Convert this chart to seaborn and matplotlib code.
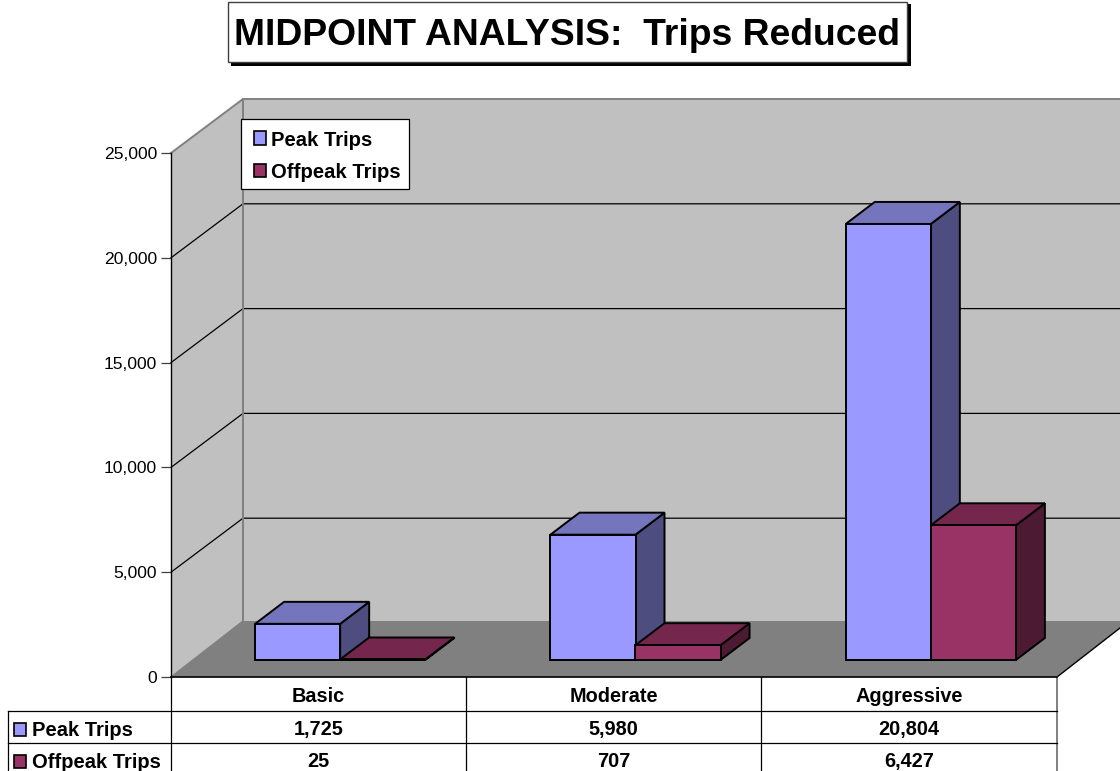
import matplotlib
matplotlib.use("Agg")
import matplotlib.pyplot as plt
from matplotlib.patches import Polygon, Rectangle
from matplotlib.ticker import FuncFormatter, MultipleLocator
import pandas as pd
import seaborn as sns

categories = ["Basic", "Moderate", "Aggressive"]
peak_trips = [1725, 5980, 20804]
offpeak_trips = [25, 707, 6427]
series_names = ["Peak Trips", "Offpeak Trips"]
tick_values = [0, 5000, 10000, 15000, 20000, 25000]
title_text = "MIDPOINT ANALYSIS:  Trips Reduced"

FACE = {"Peak Trips": "#9999FF", "Offpeak Trips": "#993366"}
TOP = {"Peak Trips": "#7575BE", "Offpeak Trips": "#74264C"}
SIDE = {"Peak Trips": "#4D4D80", "Offpeak Trips": "#4D1A33"}

W, H = 1120, 771
FONT = "Liberation Sans"
plt.rcParams["font.family"] = [FONT, "DejaVu Sans"]

# Geometry of the box, in canvas pixels
X0, X1, Y0, Y1 = 171, 1057, 677, 153      # front plane of the plot box
WALL_DX, WALL_DY = 72, 54                 # depth of the whole box
BAR_DX, BAR_DY = 21.5, 17                 # how far back the bars stand
DEPTH_X, DEPTH_Y = 29, 22                 # depth of one bar


def axes_rect(x0, x1, y_bottom, y_top):
    return [x0 / W, 1 - y_bottom / H, (x1 - x0) / W, (y_bottom - y_top) / H]


def y_px(value):
    return Y0 + (Y1 - Y0) * value / tick_values[-1]


fig = plt.figure(figsize=(W / 100, H / 100), dpi=100, facecolor="white")

# Canvas layer for walls, floor, title box and data table
canvas = fig.add_axes([0, 0, 1, 1], zorder=0)
canvas.set_xlim(0, W)
canvas.set_ylim(H, 0)
canvas.axis("off")

canvas.add_patch(Polygon(
    [(X0 + WALL_DX, Y1 - WALL_DY), (X1 + WALL_DX, Y1 - WALL_DY),
     (X1 + WALL_DX, Y0 - 56), (X0 + WALL_DX, Y0 - 56)],
    fc="#C0C0C0", ec="none"))
canvas.add_patch(Polygon(
    [(X0, Y1), (X0 + WALL_DX, Y1 - WALL_DY), (X0 + WALL_DX, Y0 - 56), (X0, Y0)],
    fc="#C0C0C0", ec="none"))
canvas.add_patch(Polygon(
    [(X0, Y0), (X0 + WALL_DX, Y0 - 56), (X1 + WALL_DX, Y0 - 56), (X1, Y0)],
    fc="#808080", ec="none"))

# Gridlines run along the side wall, then across the back wall
for v in tick_values[1:-1]:
    y = y_px(v)
    canvas.plot([X0, X0 + WALL_DX, W], [y, y - WALL_DY, y - WALL_DY],
                color="black", lw=0.9, solid_joinstyle="miter")
y = y_px(tick_values[-1])
canvas.plot([X0, X0 + WALL_DX, W], [y, y - WALL_DY, y - WALL_DY], color="#808080", lw=1.4)
canvas.plot([X0 + WALL_DX] * 2, [y - WALL_DY, Y0 - 56], color="#808080", lw=1.4)
canvas.plot([X0, X0 + WALL_DX], [Y0, Y0 - 56], color="#808080", lw=1.0)
canvas.plot([X1, X1 + WALL_DX], [Y0, Y0 - 56], color="black", lw=1.0)

# Value axis on the front plane
front = fig.add_axes(axes_rect(X0, X1, Y0, Y1), zorder=1)
front.patch.set_alpha(0)
front.set_ylim(tick_values[0], tick_values[-1])
front.set_xticks([])
front.yaxis.set_major_locator(MultipleLocator(5000))
front.yaxis.set_major_formatter(FuncFormatter(lambda v, _: f"{int(v):,}"))
front.tick_params(axis="y", length=7.2, width=0.9, pad=2.9, labelsize=12.6, color="#404040")
for side in ("top", "right"):
    front.spines[side].set_visible(False)
front.spines["left"].set_linewidth(1.0)
front.spines["bottom"].set_linewidth(1.2)

# Bars stand on the floor, a little behind the front plane
ax = fig.add_axes(axes_rect(X0 + BAR_DX, X1 + BAR_DX, Y0 - BAR_DY, Y1 - BAR_DY), zorder=2)
ax.patch.set_alpha(0)

frame = pd.DataFrame({
    "category": categories * 2,
    "series": [series_names[0]] * 3 + [series_names[1]] * 3,
    "trips": peak_trips + offpeak_trips,
})
sns.barplot(data=frame, x="category", y="trips", hue="series", hue_order=series_names,
            order=categories, palette=FACE, width=0.576, gap=0, saturation=1,
            edgecolor="black", linewidth=1.4, ax=ax, legend=True)
ax.set_xlim(-0.5, 2.5)
ax.set_ylim(tick_values[0], tick_values[-1])
ax.axis("on")
ax.set_frame_on(False)
ax.set_xticks([])
ax.set_yticks([])
ax.set_xlabel("")
ax.set_ylabel("")

depth_x = DEPTH_X * (ax.get_xlim()[1] - ax.get_xlim()[0]) / (X1 - X0)
depth_y = DEPTH_Y * tick_values[-1] / (Y0 - Y1)

# Extrude each bar: top and right-hand faces are derived from the bar's own rectangle
for name, container in zip(series_names, ax.containers):
    for bar in container:
        x, w, h = bar.get_x(), bar.get_width(), bar.get_height()
        bar.set_zorder(5)
        bar.set_clip_on(False)
        top = [(x, h), (x + depth_x, h + depth_y), (x + w + depth_x, h + depth_y), (x + w, h)]
        right = [(x + w, 0), (x + w + depth_x, depth_y), (x + w + depth_x, h + depth_y), (x + w, h)]
        ax.add_patch(Polygon(right, fc=SIDE[name], ec="black", lw=1.4, zorder=3,
                             clip_on=False, joinstyle="miter"))
        ax.add_patch(Polygon(top, fc=TOP[name], ec="black", lw=1.4, zorder=4,
                             clip_on=False, joinstyle="miter"))

handles, labels = ax.get_legend_handles_labels()
legend = ax.legend(handles, labels, loc="upper left",
                   bbox_to_anchor=(241 / W, 1 - 119 / H), bbox_transform=fig.transFigure,
                   prop={"family": FONT, "weight": "bold", "size": 14.55},
                   frameon=True, fancybox=False, framealpha=1, facecolor="white",
                   edgecolor="black", borderpad=0.45, labelspacing=0.67,
                   handlelength=0.6, handleheight=0.65, handletextpad=0.4, borderaxespad=0)
legend.get_frame().set_linewidth(0.9)
legend.set_zorder(10)
# Nudge swatches and labels inside the legend frame
for handle in legend.get_patches():
    handle.set_edgecolor("black")
    handle.set_linewidth(1.2)
    handle.set_x(handle.get_x() + 3)
    handle.set_y(handle.get_y() - 1.5)
for label in legend.get_texts():
    label.set_position((1, -2.5))

# Title box with a drop shadow
canvas.add_patch(Rectangle((231, 4), 680, 62, fc="black", ec="none"))
canvas.add_patch(Rectangle((227.5, 1.5), 679.5, 60.5, fc="white", ec="#404040", lw=1.0))
canvas.text(567.5, 45, title_text, ha="center", va="baseline", fontsize=26.85,
            fontweight="bold", color="black")

# Data table under the plot
col_edges = [X0, 466, 761, X1]
row_edges = [Y0, 711, 743, H]
for x in col_edges[:-1]:
    canvas.plot([x, x], [Y0, H], color="black", lw=0.9)
canvas.plot([X1, X1], [Y0, H], color="#808080", lw=1.4)
canvas.plot([8, 8], [711, H], color="black", lw=0.9)
for y in row_edges[1:3]:
    canvas.plot([8, X1], [y, y], color="black", lw=0.9)

table_font = dict(ha="center", va="baseline", fontsize=14.3, fontweight="bold", color="black")
for i, cat in enumerate(categories):
    cx = (col_edges[i] + col_edges[i + 1]) / 2
    canvas.text(cx, 702, cat, **table_font)
    canvas.text(cx, 735, f"{peak_trips[i]:,}", **table_font)
    canvas.text(cx, 767, f"{offpeak_trips[i]:,}", **table_font)

for name, y_mid in zip(series_names, (729.5, 761.5)):
    canvas.add_patch(Rectangle((14, y_mid - 6.5), 12, 13, fc=FACE[name], ec="black", lw=1.2))
    canvas.text(32.5, y_mid + 7, name, ha="left", va="baseline", fontsize=14.5,
                fontweight="bold", color="black")

fig.savefig("out.png", dpi=100)
